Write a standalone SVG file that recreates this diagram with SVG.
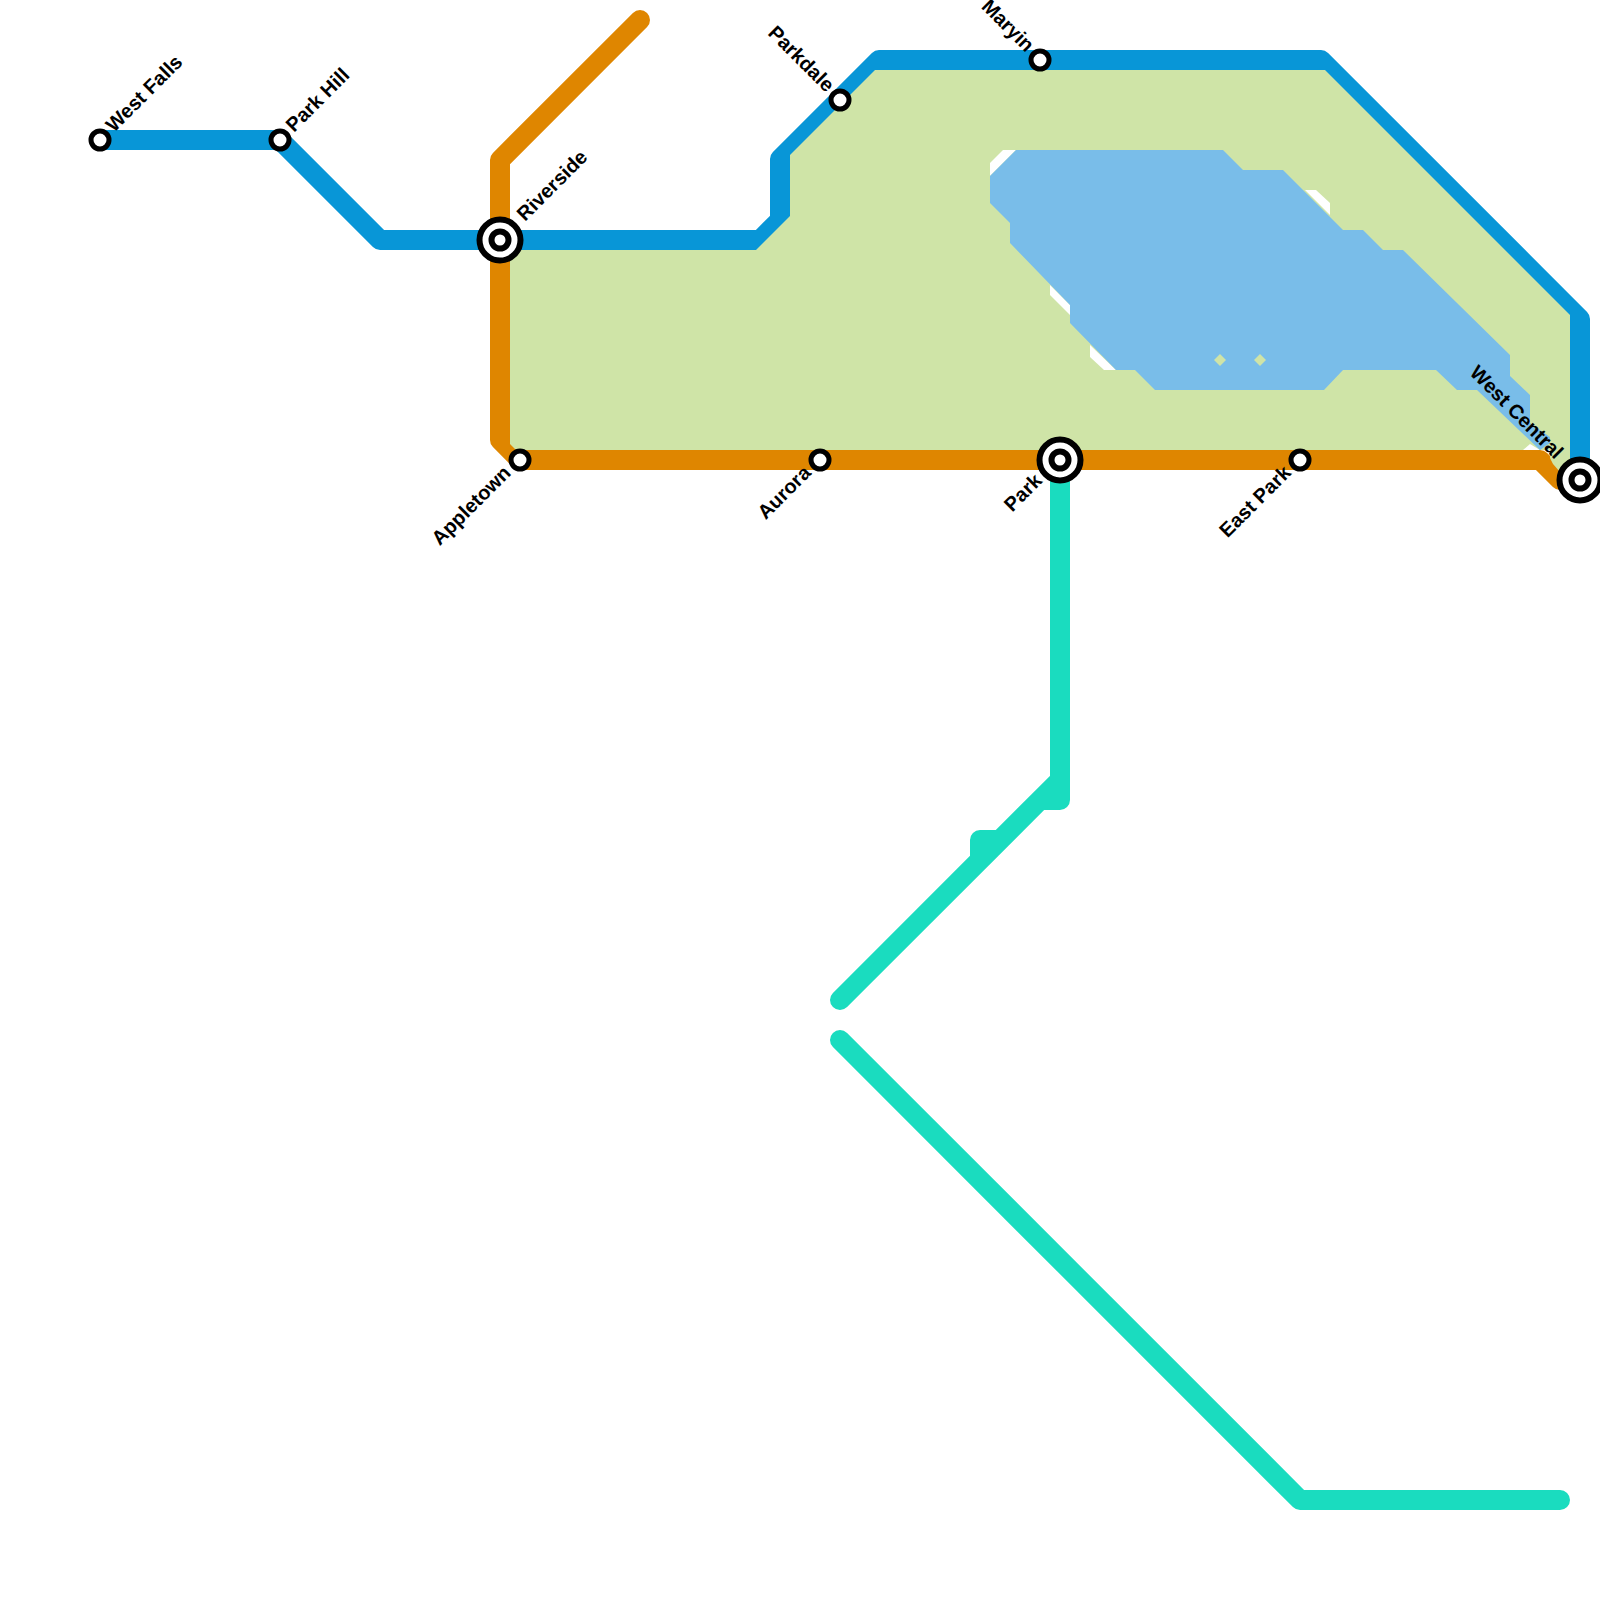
<svg xmlns="http://www.w3.org/2000/svg" width="1600" height="1600" viewBox="0 0 1600 1600">
<style>
.line{fill:none;stroke-width:20;stroke-linejoin:round;stroke-linecap:round}
.blue{stroke:#0896d7}.orange{stroke:#df8600}.teal{stroke:#1adcbf}
.st{fill:#fff;stroke:#000;stroke-width:5}
.ic{fill:#fff;stroke:#000;stroke-width:6}
.lb{font-family:"Liberation Sans",Arial,sans-serif;font-weight:700;font-size:20px;fill:#000}
.e{text-anchor:end}
</style>
<g id="connectors">
<path class="line blue" d="M100 140H280L380 240H760L780 220V159L879 60H1321L1580 319V480"/>
<path class="line orange" d="M640 20L500 160V440L520 460H1540L1560 480H1580"/>
<path class="line teal" d="M1060 460V800H1040M840 1000L1060 780M980 860V840H1000M840 1040L1300 1500H1560"/>
</g>
<g id="park-area">
<polygon fill="#cfe4a7" points="510,250 756,250 790,216 790,155 875,70 1325,70 1570,315 1570,474 1560,472 1553,464 1550,458 1550,450 516,450 510,444"/>
<polygon fill="#fff" points="990,176 1016,150 1003,150 990,163"/>
<polygon fill="#fff" points="1305,190 1316,190 1330,203 1330,215"/>
<polygon fill="#fff" points="1050,285 1070,305 1070,315 1050,295"/>
<polygon fill="#fff" points="1090,345 1116,370 1104,370 1090,357"/>
<polygon fill="#fff" points="1523,450 1530,444 1540,450"/>
</g>
<g id="water">
<polygon fill="#79bde9" points="1016,150 1223,150 1243,170 1283,170 1343,230 1363,230 1383,250 1403,250 1510,355 1510,376 1530,395 1530,423 1550,437 1550,443 1540,450 1477,390 1457,390 1436,370 1343,370 1324,390 1155,390 1135,370 1116,370 1070,323 1070,305 1010,243 1010,223 990,203 990,176"/>
<polygon fill="#cfe4a7" points="1220,354 1226,360 1220,366 1214,360"/>
<polygon fill="#cfe4a7" points="1260,354 1266,360 1260,366 1254,360"/>
</g>
<g id="west-falls"><circle class="st" cx="100" cy="140" r="9"/><text class="lb" x="114" y="133" transform="rotate(-45 114 133)">West Falls</text></g>
<g id="park-hill"><circle class="st" cx="280" cy="140" r="9"/><text class="lb" x="294" y="133" transform="rotate(-45 294 133)">Park Hill</text></g>
<g id="riverside"><circle class="ic" cx="500" cy="240" r="20.5"/><circle class="ic" cx="500" cy="240" r="8.5"/><text class="lb" x="525" y="222" transform="rotate(-45 525 222)">Riverside</text></g>
<g id="appletown"><circle class="st" cx="520" cy="460" r="9"/><text class="lb e" x="512" y="474" transform="rotate(-45 512 474)">Appletown</text></g>
<g id="aurora"><circle class="st" cx="820" cy="460" r="9"/><text class="lb e" x="812" y="474" transform="rotate(-45 812 474)">Aurora</text></g>
<g id="park"><circle class="ic" cx="1060" cy="460" r="20.5"/><circle class="ic" cx="1060" cy="460" r="8.5"/><text class="lb e" x="1043" y="482" transform="rotate(-45 1043 482)">Park</text></g>
<g id="east-park"><circle class="st" cx="1300" cy="460" r="9"/><text class="lb e" x="1292" y="474" transform="rotate(-45 1292 474)">East Park</text></g>
<g id="parkdale"><circle class="st" cx="840" cy="100" r="9"/><text class="lb e" x="826" y="93" transform="rotate(45 826 93)">Parkdale</text></g>
<g id="maryin"><circle class="st" cx="1040" cy="60" r="9"/><text class="lb e" x="1026" y="53" transform="rotate(45 1026 53)">Maryin</text></g>
<g id="west-central"><circle class="ic" cx="1580" cy="480" r="20.5"/><circle class="ic" cx="1580" cy="480" r="8.5"/><text class="lb e" x="1555" y="460" transform="rotate(45 1555 460)">West Central</text></g>
</svg>
